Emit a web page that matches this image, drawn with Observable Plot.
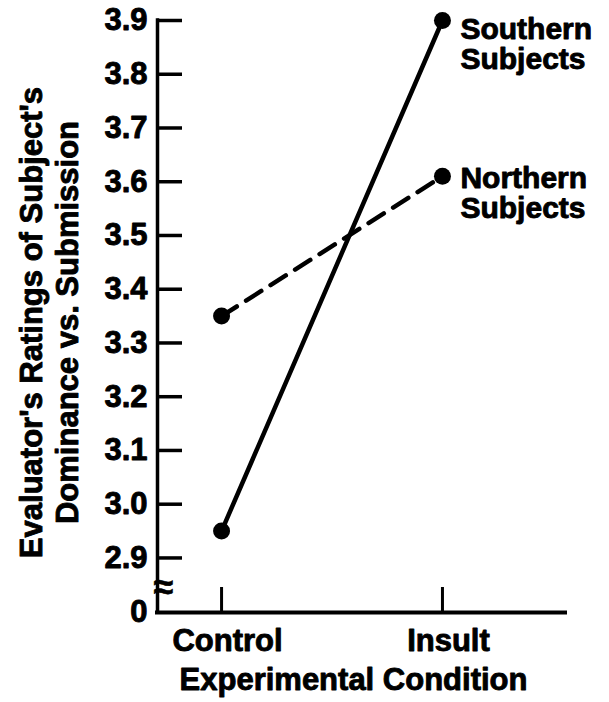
<!DOCTYPE html>
<html>
<head>
<meta charset="utf-8">
<script src="https://cdn.jsdelivr.net/npm/d3@7"></script>
<script src="https://cdn.jsdelivr.net/npm/@observablehq/plot@0.6"></script>
<style>
  body { margin: 0; background: #fff; }
</style>
</head>
<body>
<div id="chart"></div>
<script>
// ---- data ----
const conditions = ["Control", "Insult"];
const southernValues = [2.95, 3.9];
const northernValues = [3.35, 3.61];
const southernLabel = "Southern\nSubjects";
const northernLabel = "Northern\nSubjects";
const yTickValues = [2.9, 3.0, 3.1, 3.2, 3.3, 3.4, 3.5, 3.6, 3.7, 3.8, 3.9];
const yTickLabels = ["2.9", "3.0", "3.1", "3.2", "3.3", "3.4", "3.5", "3.6", "3.7", "3.8", "3.9"];
const yOrigin = 2.7985;        // axis origin, shown as "0" below the break
const yOriginLabel = "0";
const yBreakValue = 2.846;     // where the axis break is drawn
const xTitle = "Experimental Condition";
const yTitle = "Evaluator's Ratings of Subject's\nDominance vs. Submission";

// ---- table built from arrays ----
const rows = [];
conditions.forEach((c, i) => {
  rows.push({group: "Southern", i, condition: c, value: southernValues[i]});
  rows.push({group: "Northern", i, condition: c, value: northernValues[i]});
});
const southern = rows.filter(d => d.group === "Southern");
const northern = rows.filter(d => d.group === "Northern");
const lastIndex = conditions.length - 1;

const labelMap = new Map(yTickValues.map((v, i) => [v, yTickLabels[i]]));
labelMap.set(yOrigin, yOriginLabel);

const W = 609, H = 702;
const mL = 157, mR = 44, mT = 20, mB = 90;
const innerW = W - mL - mR, innerH = H - mT - mB;
const tickLen = 25;
const FS = 31;
const heavy = {stroke: "#000", strokeWidth: 0.9, fill: "#000"};

const xDomain = [-0.29, 1.557];

const chart = Plot.plot({
  width: W,
  height: H,
  marginLeft: mL,
  marginRight: mR,
  marginTop: mT,
  marginBottom: mB,
  style: {fontFamily: "'Liberation Sans', Arial, Helvetica, sans-serif", fontWeight: "bold", background: "#fff", color: "#000"},
  x: {type: "linear", domain: xDomain},
  y: {type: "linear", domain: [yOrigin, yTickValues[yTickValues.length - 1]]},
  marks: [
    // axis lines
    Plot.ruleY([yOrigin], {stroke: "#000", strokeWidth: 4, strokeLinecap: "square"}),
    Plot.ruleX([xDomain[0]], {y1: yOrigin, y2: yTickValues[yTickValues.length - 1], stroke: "#000", strokeWidth: 3.5, strokeLinecap: "square"}),
    // inward y ticks
    Plot.ruleY(yTickValues, {y: d => d, insetRight: innerW - tickLen, stroke: "#000", strokeWidth: 3.5}),
    // upward x ticks
    Plot.ruleX(conditions, {x: (d, i) => i, insetTop: innerH - tickLen, stroke: "#000", strokeWidth: 3}),
    // axis break symbol
    Plot.text([yBreakValue], {y: d => d, text: () => "≈", frameAnchor: "left", dx: -4, fontSize: 36, fontWeight: "bold", ...heavy, strokeWidth: 0.6}),
    // axes labels
    Plot.axisY({ticks: [yOrigin, ...yTickValues], tickFormat: d => labelMap.get(d), tickSize: 0, tickPadding: 10, fontSize: FS, label: null, fill: "#000", textStroke: "#000", textStrokeWidth: 0.9}),
    Plot.axisX({ticks: conditions.map((c, i) => i), tickFormat: i => conditions[i], tickSize: 0, tickPadding: 16, fontSize: FS, label: null, dx: 6, fill: "#000", textStroke: "#000", textStrokeWidth: 0.9}),
    // titles
    Plot.text([xTitle], {frameAnchor: "bottom", lineAnchor: "top", dy: 55, dx: -8, fontSize: FS, ...heavy}),
    Plot.text([yTitle], {frameAnchor: "left", rotate: -90, textAnchor: "middle", lineAnchor: "bottom", lineHeight: 1.16, dx: -80, dy: 6, fontSize: FS, ...heavy}),
    // series
    Plot.line(southern, {x: "i", y: "value", stroke: "#000", strokeWidth: 4.5}),
    Plot.line(northern, {x: "i", y: "value", stroke: "#000", strokeWidth: 4.5, strokeDasharray: "18,11"}),
    Plot.dot(rows, {x: "i", y: "value", r: 8.5, fill: "#000", stroke: null}),
    // series labels
    Plot.text(southern.filter(d => d.i === lastIndex), {x: "i", y: "value", text: () => southernLabel, textAnchor: "start", lineAnchor: "top", dx: 18, dy: -3, fontSize: 30, ...heavy}),
    Plot.text(northern.filter(d => d.i === lastIndex), {x: "i", y: "value", text: () => northernLabel, textAnchor: "start", lineAnchor: "top", dx: 18, dy: -10, fontSize: 30, ...heavy})
  ]
});
document.getElementById("chart").appendChild(chart);
</script>
</body>
</html>
